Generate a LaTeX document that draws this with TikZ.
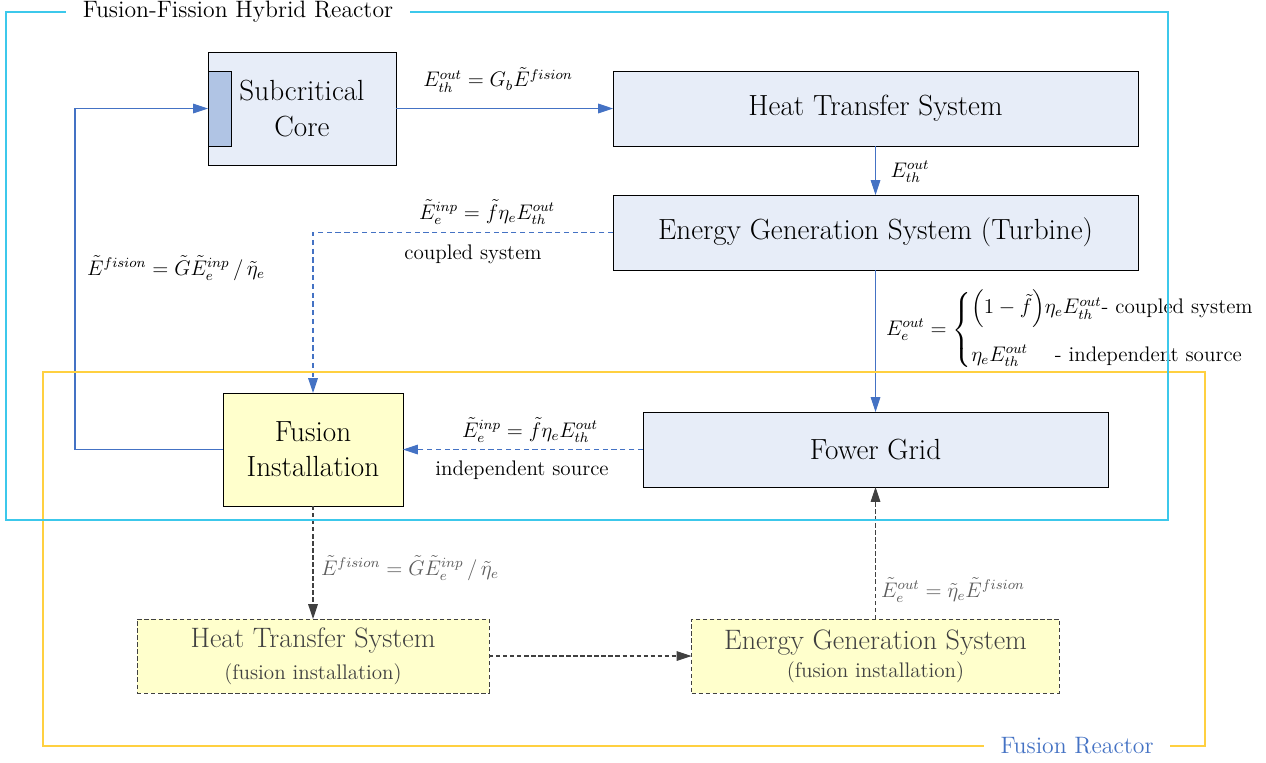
\RequirePackage{fix-cm}
\documentclass[tikz,border=0pt]{standalone}
\usepackage{amsmath,amssymb}
\usepackage{fontspec}
\usepackage{xcolor}
\usepackage{tikz}
\usetikzlibrary{arrows.meta,positioning}
\definecolor{lineblue}{RGB}{68,114,196}
\definecolor{boxblue}{RGB}{231,237,248}
\definecolor{coreblue}{RGB}{176,196,228}
\definecolor{fusyellow}{RGB}{255,255,204}
\definecolor{framecyan}{RGB}{60,200,235}
\definecolor{frameyellow}{RGB}{255,208,64}
\definecolor{darkline}{RGB}{64,64,64}

\begin{document}
\begin{tikzpicture}[x=0.02cm,y=-0.02cm,
    sys/.style={draw=black,line width=0.5pt,fill=boxblue,font=\fontsize{16.6}{20}\selectfont,inner sep=0pt,outer sep=0pt,minimum height=1.5cm,align=center},
    fus/.style={draw=black,line width=0.5pt,fill=fusyellow,font=\fontsize{16.6}{20}\selectfont,inner sep=0pt,outer sep=0pt,minimum width=3.6cm,minimum height=2.26cm,align=center},
    fsub/.style={draw=darkline,dashed,dash pattern=on 2.5pt off 1.5pt,line width=0.5pt,fill=fusyellow,text=darkline,font=\fontsize{16}{19}\selectfont,inner sep=0pt,outer sep=0pt,minimum height=1.48cm,align=center},
    lbl/.style={font=\fontsize{12}{15}\selectfont,inner sep=1pt},
    glbl/.style={lbl,text=darkline!85},
    frm/.style={fill=white,font=\fontsize{13.5}{16}\selectfont,inner xsep=0.33cm,inner ysep=2pt},
    bl/.style={draw=lineblue,line width=0.6pt,-{Triangle[length=8.5pt,width=5.5pt]}},
    bld/.style={bl,dash pattern=on 3pt off 2pt},
    gd/.style={draw=darkline,line width=0.6pt,dash pattern=on 2.5pt off 1.5pt,-{Triangle[length=8.5pt,width=5.5pt]}}]
   \useasboundingbox (0,0) rectangle (1266,762);
   % blocks
   \node[sys,minimum width=3.76cm,minimum height=2.26cm] (core) at (302,108.5) {Subcritical\\Core};
   \node[draw=black,line width=0.5pt,fill=coreblue,inner sep=0pt,minimum width=0.46cm,minimum height=1.5cm] (rod) at (219.5,108.5) {};
   \node[sys,minimum width=10.5cm] (hts) at (875.5,108.5) {Heat Transfer System};
   \node[sys,minimum width=10.5cm] (egs) at (875.5,232.5) {Energy Generation System (Turbine)};
   \node[sys,minimum width=9.3cm] (grid) at (875.5,449.5) {Fower Grid};
   \node[fus] (fusi) at (313,449.5) {Fusion\\Installation};
   \node[fsub,minimum width=7.04cm] (htsf) at (313,656) {Heat Transfer System\\[-1pt]{\fontsize{12}{14}\selectfont (fusion installation)}};
   \node[fsub,minimum width=7.36cm] (egsf) at (875.5,656) {Energy Generation System\\[-3pt]{\fontsize{12}{14}\selectfont (fusion installation)}};
   \coordinate (fb) at (75,449.5);
   % connectors
   \draw[bl] (core.east) -- (hts.west);
   \draw[bl] (hts.south) -- (egs.north);
   \draw[bl] (egs.south) -- (grid.north);
   \draw[bld] (egs.west) -| (fusi.north);
   \draw[bld] (grid.west) -- (fusi.east);
   \draw[bl] (fusi.west) -- (fb) |- (core.west);
   \draw[gd] (fusi.south) -- (htsf.north);
   \draw[gd] (htsf.east) -- (egsf.west);
   \draw[gd] (egsf.north) -- (grid.south);
   % labels
   \node[lbl] (l1) at (498,80) {$E_{th}^{out} = G_b\tilde{E}^{fision}$};
   \node[lbl] (l2) at (910,172) {$E_{th}^{out}$};
   \node[lbl] (l3) at (487,212) {$\tilde{E}_e^{inp} = \tilde{f}\eta_e E_{th}^{out}$};
   \node[lbl] (l4) at (473,254) {coupled system};
   \node[lbl] (l5) at (176,268) {$\tilde{E}^{fision} = \tilde{G}\tilde{E}_e^{inp}\,/\,\tilde{\eta}_e$};
   \node[lbl,anchor=west] (l6) at (884,330) {$E_e^{out} = \begin{cases}\Bigl(1-\tilde{f}\Bigr)\eta_e E_{th}^{out}\text{- coupled system}\\[9pt] \eta_e E_{th}^{out}\quad\;\text{- independent source}\end{cases}$};
   \node[lbl] (l7) at (530,430) {$\tilde{E}_e^{inp} = \tilde{f}\eta_e E_{th}^{out}$};
   \node[lbl] (l8) at (522,470) {independent source};
   \node[glbl] (l9) at (410,568) {$\tilde{E}^{fision} = \tilde{G}\tilde{E}_e^{inp}\,/\,\tilde{\eta}_e$};
   \node[glbl] (l10) at (953,590) {$\tilde{E}_e^{out} = \tilde{\eta}_e\tilde{E}^{fision}$};
   % frames
   \draw[frameyellow,line width=0.6pt] (43,372) rectangle (1205,746);
   \draw[framecyan,line width=0.6pt] (6,12) rectangle (1168,520);
   \node[frm] (ffhr) at (238,12) {Fusion-Fission Hybrid Reactor};
   \node[frm,text=lineblue] (fr) at (1077,746) {Fusion Reactor};
  \end{tikzpicture}
\end{document}
